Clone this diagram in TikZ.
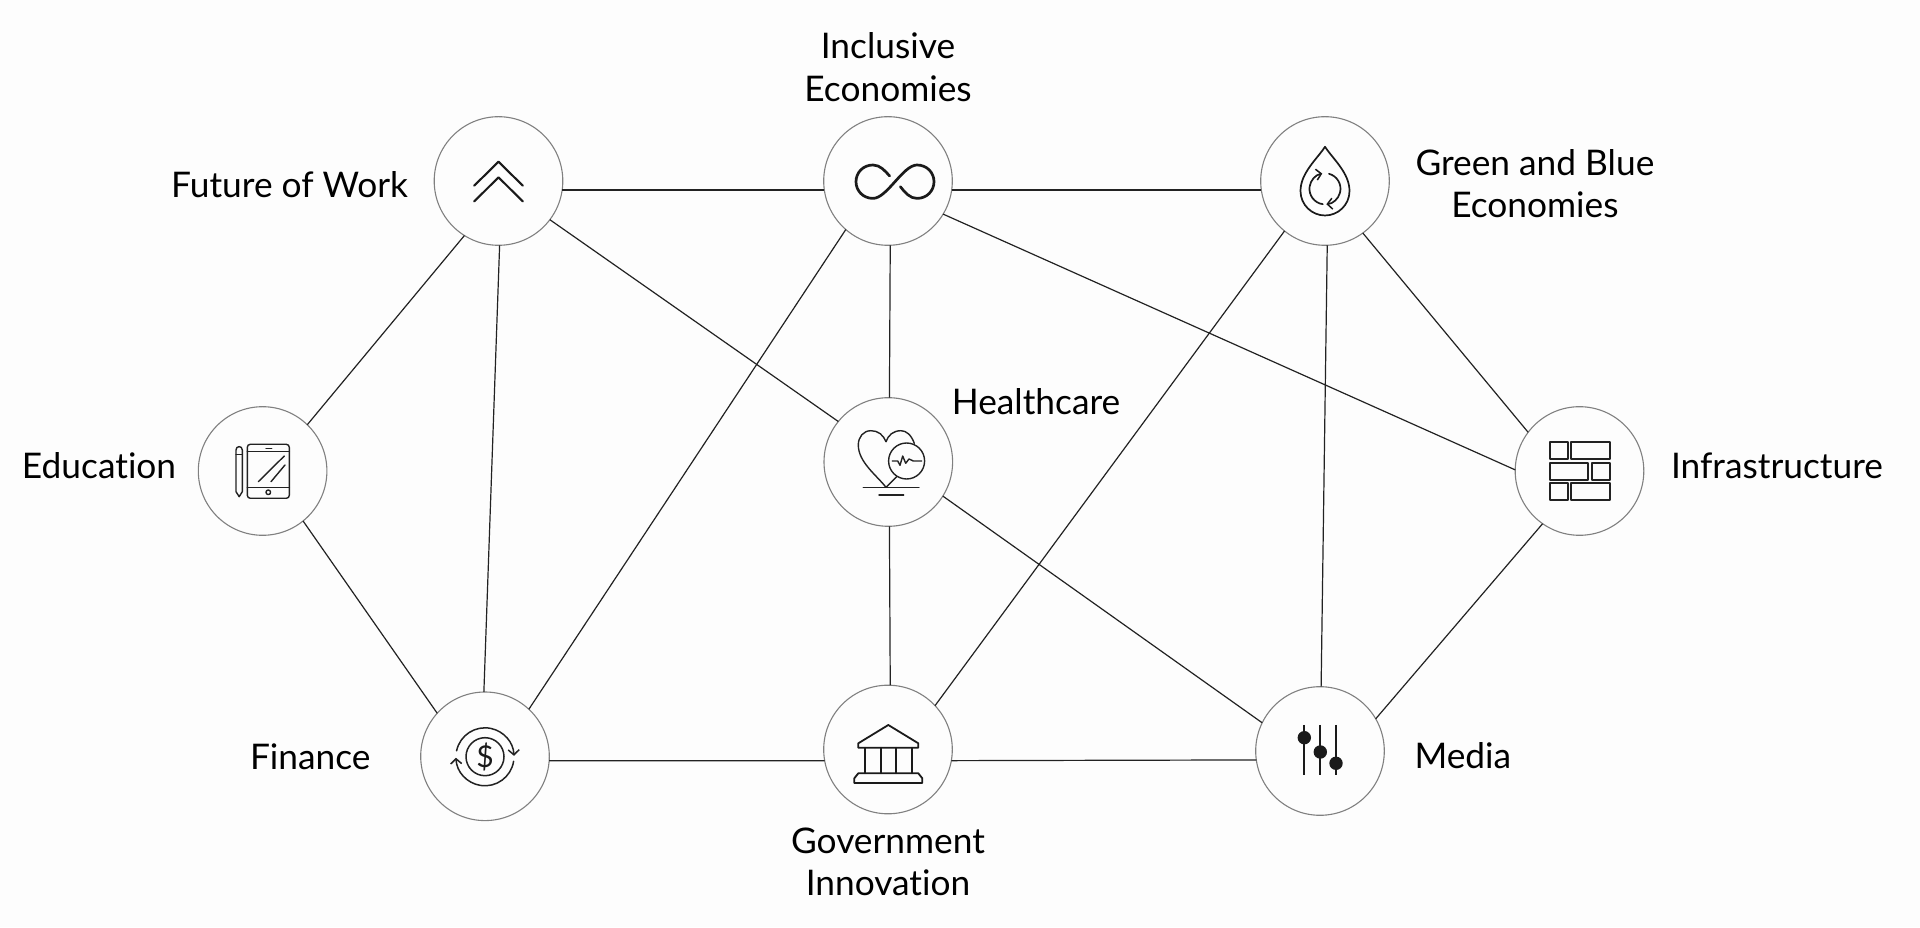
\documentclass[tikz,border=0pt]{standalone}
\usepackage{fontspec}
\setmainfont{Lato}[Ligatures=NoCommon]
\usetikzlibrary{arrows.meta,positioning}
\definecolor{bgc}{HTML}{FDFDFD}
\definecolor{ringc}{HTML}{808080}
\definecolor{linec}{HTML}{222222}
\definecolor{iconc}{HTML}{1A1A1A}

\begin{document}
\begin{tikzpicture}[x=1pt,y=1pt,
  hub/.style={draw=ringc,circle,line width=1.1pt,minimum size=128.6pt,inner sep=0pt,outer sep=0pt},
  ln/.style={draw=linec,line width=1.2pt},
  lab/.style={font=\fontsize{35.3}{42.3}\selectfont,align=center,inner sep=0pt,text=black},
  ic/.style={draw=iconc,line width=1.7pt,line cap=round,line join=round},
  tip/.style={-{Straight Barb[length=5pt,width=11pt,line width=1.5pt]}}]
\fill[bgc,use as bounding box] (0,0) rectangle (1920,927);
\node[hub] (fut) at (498.5,746) {};
\node[hub] (incl) at (888,746) {};
\node[hub] (green) at (1325,746) {};
\node[hub] (edu) at (262.6,456) {};
\node[hub] (hlth) at (888.3,465) {};
\node[hub] (infra) at (1579.5,456) {};
\node[hub] (fin) at (485,170.7) {};
\node[hub] (gov) at (888,177.5) {};
\node[hub] (media) at (1320,176) {};

\node[lab,above=15pt of incl] (inclT) {Inclusive\\Economies};
\node[lab,left=26pt of fut,yshift=-4pt] (futT) {Future of Work};
\node[lab,right=26pt of green,yshift=-2.5pt] (greenT) {Green and Blue\\Economies};
\node[lab,left=22pt of edu,yshift=5pt] (eduT) {Education};
\node[lab,right=-1pt of hlth,yshift=60pt] (hlthT) {Healthcare};
\node[lab,right=27pt of infra,yshift=5pt] (infraT) {Infrastructure};
\node[lab,left=50pt of fin] (finT) {Finance};
\node[lab,below=14pt of gov] (govT) {Government\\Innovation};
\node[lab,right=30pt of media,yshift=-5pt] (mediaT) {Media};

\draw[ln] (fut.-8) -- (incl.188);
\draw[ln] (incl.-8) -- (green.188);
\draw[ln] (fin.-4) -- (gov.190);
\draw[ln] (gov.-10) -- (media.188.7);
\draw[ln] (fut.238) -- (edu.46);
\draw[ln] (fut.271) -- (fin.91);
\draw[ln] (fut.-37) -- (hlth.141);
\draw[ln] (incl.229) -- (fin.47);
\draw[ln] (incl.-88) -- (hlth.89);
\draw[ln] (incl.-31) -- (infra.179);
\draw[ln] (green.231) -- (gov.43);
\draw[ln] (green.-88) -- (media.89);
\draw[ln] (green.-54) -- (infra.143);
\draw[ln] (edu.-51) -- (fin.138);
\draw[ln] (hlth.-89) -- (gov.88);
\draw[ln] (hlth.-32) -- (media.154);
\draw[ln] (infra.235) -- (media.30);

\begin{scope}[shift={(fut.center)}]
  \draw[ic,line width=2.1pt] (-24.3,-4.7) -- (0,19.3) -- (24.3,-4.7);
  \draw[ic,line width=2.1pt] (-24.3,-20.5) -- (0,3.7) -- (24.3,-20.5);
\end{scope}
\begin{scope}[shift={(incl.center)},xshift=7pt,yshift=-0.7pt]
  \draw[ic,line width=2.7pt] (-5.4,5.7) .. controls (-10,11) and (-15,16.7) .. (-22,16.7)
    .. controls (-32,16.7) and (-39,9) .. (-39,0) .. controls (-39,-9) and (-32,-16.7) .. (-22,-16.7)
    .. controls (-8,-16.7) and (8,16.7) .. (22,16.7) .. controls (32,16.7) and (39,9) .. (39,0)
    .. controls (39,-9) and (32,-16.7) .. (22,-16.7) .. controls (15,-16.7) and (10,-11) .. (5.4,-5);
\end{scope}
\begin{scope}[shift={(green.center)}]
  \draw[ic] (0,34.2) .. controls (-8,22) and (-24.5,8) .. (-24.5,-10)
    .. controls (-24.5,-24) and (-13,-34.5) .. (0,-34.5)
    .. controls (13,-34.5) and (24.5,-24) .. (24.5,-10)
    .. controls (24.5,8) and (8,22) .. (0,34.2) -- cycle;
  \draw[ic,tip] (-2.2,-23.2) arc[start angle=262,end angle=100,radius=15.5];
  \draw[ic,tip] (4,7.2) arc[start angle=75,end angle=-85,radius=15.5];
\end{scope}
\begin{scope}[shift={(edu.center)},ic/.append style={draw=linec,line width=1.4pt}]
  \draw[ic,rounded corners=3pt] (-15.3,-27.3) rectangle (26.7,26.7);
  \draw[ic] (-15.3,19.3) -- (26.7,19.3) (-15.3,-16.3) -- (26.7,-16.3);
  \draw[ic] (3.4,22.7) -- (9.1,22.7);
  \draw[ic] (5.7,-21.3) circle (2.3);
  \draw[ic] (-4.3,-10.7) -- (21.7,15) (8.4,-10.7) -- (22.4,6);
  \draw[ic] (-26.6,-20.7) -- (-26.6,21) .. controls (-26.6,25.5) and (-20.3,25.5) .. (-20.3,21)
    -- (-20.3,-20.7) -- (-23.4,-25.7) -- cycle;
  \draw[ic] (-26.6,16.7) -- (-20.3,16.7);
\end{scope}
\begin{scope}[shift={(hlth.center)},ic/.append style={draw=linec,line width=1.4pt}]
  \draw[ic] (26,18.7) .. controls (23,27) and (18,31.3) .. (12.7,31.3)
    .. controls (5,31.3) and (0,27) .. (-2.3,20.3) .. controls (-5,27) and (-10,31.3) .. (-17.3,31.3)
    .. controls (-25,31.3) and (-30,25) .. (-30,17) .. controls (-30,0) and (-12,-13) .. (-2.3,-25.3)
    -- (8.3,-14.7);
  \draw[ic] (18.3,1) circle (18);
  \draw[ic] (-25,-25.7) -- (30.7,-25.7) (-9.3,-33) -- (15.4,-33);
  \draw[ic] (4,1) -- (9.4,1) -- (11.7,-3.3) -- (14.4,6) -- (17.4,-1.3) -- (20.7,3) -- (25,1) -- (33.4,1);
\end{scope}
\begin{scope}[shift={(infra.center)},ic/.append style={line width=1.7pt,draw=linec,line cap=butt}]
  \foreach \xa/\xb/\ya/\yb in {-29.2/-11.8/12/28.7,-8.2/30.2/12/28.7,-29.2/8.8/-8.7/8,
      12.8/30.2/-8.7/8,-29.2/-11.8/-29/-12.3,-8.2/30.2/-29/-12.3}
    \draw[ic] (\xa,\ya) rectangle (\xb,\yb);
\end{scope}
\begin{scope}[shift={(fin.center)},ic/.append style={draw=linec,line width=1.5pt}]
  \draw[ic] (0,-0.4) circle (19);
  \draw[ic,tip] (-28.4,5.5) arc[start angle=168,end angle=2,radius=29];
  \draw[ic,tip] (28.6,-5) arc[start angle=-9,end angle=-178,radius=29];
  \node[font=\fontsize{30}{30}\selectfont,text=iconc,inner sep=0pt] (finS) at (0,-0.4) {\$};
\end{scope}
\begin{scope}[shift={(gov.center)},ic/.append style={line width=1.8pt}]
  \draw[ic] (0.3,24.5) -- (30.3,6.2) -- (30.3,1.8) -- (-29.7,1.8) -- (-29.7,6.2) -- cycle;
  \foreach \xa in {-23,-7.3,8.3,23.7}
    \draw[ic] (\xa,1.8) -- (\xa,-23.8);
  \draw[ic] (-29.7,-23.8) -- (30.3,-23.8) -- (34.3,-28.8) -- (34.3,-33.5)
    -- (-33.7,-33.5) -- (-33.7,-28.8) -- cycle;
\end{scope}
\begin{scope}[shift={(media.center)},ic/.append style={line width=2.2pt,line cap=butt}]
  \foreach \xa/\ya in {-15.7/13.3,0.3/-1,16/-12.3}{
    \draw[ic] (\xa,26) -- (\xa,-24);
    \fill[iconc] (\xa,\ya) circle (6.7);
  }
\end{scope}
\end{tikzpicture}
\end{document}
